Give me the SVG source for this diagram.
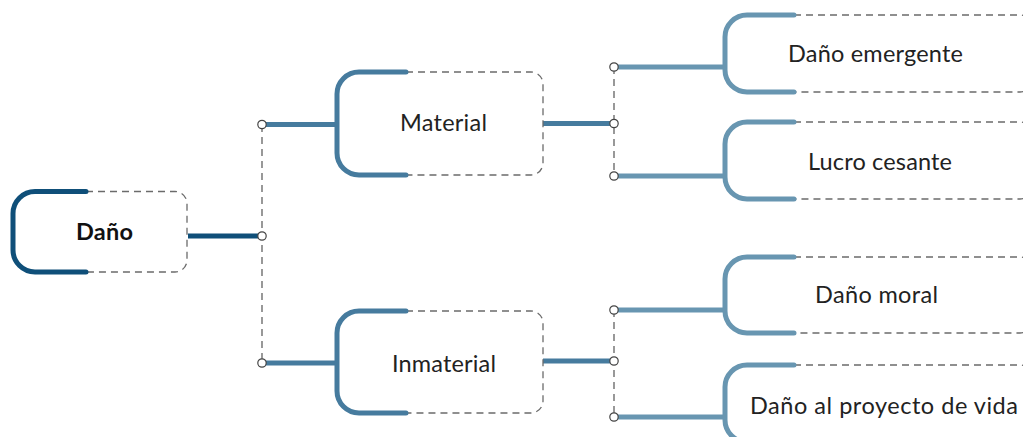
<svg xmlns="http://www.w3.org/2000/svg" width="1023" height="437" viewBox="0 0 1023 437">
  <style>
    .frame { fill: none; stroke: #6b6b6b; stroke-width: 1.3; stroke-dasharray: 7 5; }
    .br { fill: none; stroke-width: 5; stroke-linecap: round; }
    .l0 { stroke: #0f4f79; }
    .l1 { stroke: #467b9e; }
    .l2 { stroke: #6896b1; }
    .link { fill: none; stroke-width: 5; }
    .spine { fill: none; stroke: #555; stroke-width: 1.2; stroke-dasharray: 7 5; }
    .dot { fill: #fff; stroke: #444; stroke-width: 1.2; }
    .label { font-family: "Lato", "Liberation Sans", sans-serif; font-size: 23.5px; fill: #222; text-anchor: middle; }
    .root { font-weight: 700; fill: #111; }
  </style>

  <!-- connectors -->
  <g id="connectors">
    <line class="spine" x1="262" y1="125" x2="262" y2="363"/>
    <line class="spine" x1="614" y1="67" x2="614" y2="176"/>
    <line class="spine" x1="614" y1="310" x2="614" y2="417"/>

    <line class="link l0" x1="188" y1="236" x2="262" y2="236"/>
    <line class="link l1" x1="262" y1="124.5" x2="338" y2="124.5"/>
    <line class="link l1" x1="262" y1="363" x2="338" y2="363"/>
    <line class="link l1" x1="543" y1="123.5" x2="614" y2="123.5"/>
    <line class="link l1" x1="543" y1="361" x2="614" y2="361"/>
    <line class="link l2" x1="614" y1="67" x2="726" y2="67"/>
    <line class="link l2" x1="614" y1="176" x2="726" y2="176"/>
    <line class="link l2" x1="614" y1="310" x2="726" y2="310"/>
    <line class="link l2" x1="614" y1="417" x2="726" y2="417"/>

    <circle class="dot" cx="262" cy="236" r="4.2"/>
    <circle class="dot" cx="262" cy="124.5" r="4.2"/>
    <circle class="dot" cx="262" cy="363" r="4.2"/>
    <circle class="dot" cx="614" cy="123.5" r="4.2"/>
    <circle class="dot" cx="614" cy="67" r="4.2"/>
    <circle class="dot" cx="614" cy="176" r="4.2"/>
    <circle class="dot" cx="614" cy="361" r="4.2"/>
    <circle class="dot" cx="614" cy="310" r="4.2"/>
    <circle class="dot" cx="614" cy="417" r="4.2"/>
  </g>

  <!-- root -->
  <g id="node-dano">
    <path class="frame" d="M86 191.5 H175 A12 12 0 0 1 187 203.5 V260 A12 12 0 0 1 175 272 H86"/>
    <path class="br l0" d="M86 191.5 H35 A22 22 0 0 0 13 213.5 V250 A22 22 0 0 0 35 272 H86"/>
    <text class="label root" x="104.5" y="240" textLength="57">Daño</text>
  </g>

  <!-- first level -->
  <g id="node-material">
    <path class="frame" d="M406 72 H531 A12 12 0 0 1 543 84 V163 A12 12 0 0 1 531 175 H406"/>
    <path class="br l1" d="M406 72 H359 A22 22 0 0 0 337 94 V153 A22 22 0 0 0 359 175 H406"/>
    <text class="label" x="443.5" y="130.5" textLength="87">Material</text>
  </g>

  <g id="node-inmaterial">
    <path class="frame" d="M406 311 H531 A12 12 0 0 1 543 323 V401 A12 12 0 0 1 531 413 H406"/>
    <path class="br l1" d="M406 311 H359 A22 22 0 0 0 337 333 V391 A22 22 0 0 0 359 413 H406"/>
    <text class="label" x="444" y="372" textLength="104">Inmaterial</text>
  </g>

  <!-- second level -->
  <g id="node-dano-emergente">
    <path class="frame" d="M794 15 H1020 A12 12 0 0 1 1032 27 V80 A12 12 0 0 1 1020 92 H794"/>
    <path class="br l2" d="M794 15 H747 A22 22 0 0 0 725 37 V70 A22 22 0 0 0 747 92 H794"/>
    <text class="label" x="875.5" y="62" textLength="175">Daño emergente</text>
  </g>

  <g id="node-lucro-cesante">
    <path class="frame" d="M794 122 H1020 A12 12 0 0 1 1032 134 V187 A12 12 0 0 1 1020 199 H794"/>
    <path class="br l2" d="M794 122 H747 A22 22 0 0 0 725 144 V177 A22 22 0 0 0 747 199 H794"/>
    <text class="label" x="880" y="170" textLength="144">Lucro cesante</text>
  </g>

  <g id="node-dano-moral">
    <path class="frame" d="M794 257 H1020 A12 12 0 0 1 1032 269 V321 A12 12 0 0 1 1020 333 H794"/>
    <path class="br l2" d="M794 257 H747 A22 22 0 0 0 725 279 V311 A22 22 0 0 0 747 333 H794"/>
    <text class="label" x="876.5" y="303" textLength="123">Daño moral</text>
  </g>

  <g id="node-proyecto-de-vida">
    <path class="frame" d="M794 365 H1020 A12 12 0 0 1 1032 377 V430 A12 12 0 0 1 1020 442 H794"/>
    <path class="br l2" d="M794 365 H747 A22 22 0 0 0 725 387 V420 A22 22 0 0 0 747 442 H794"/>
    <text class="label" x="884" y="414" textLength="268">Daño al proyecto de vida</text>
  </g>
</svg>
